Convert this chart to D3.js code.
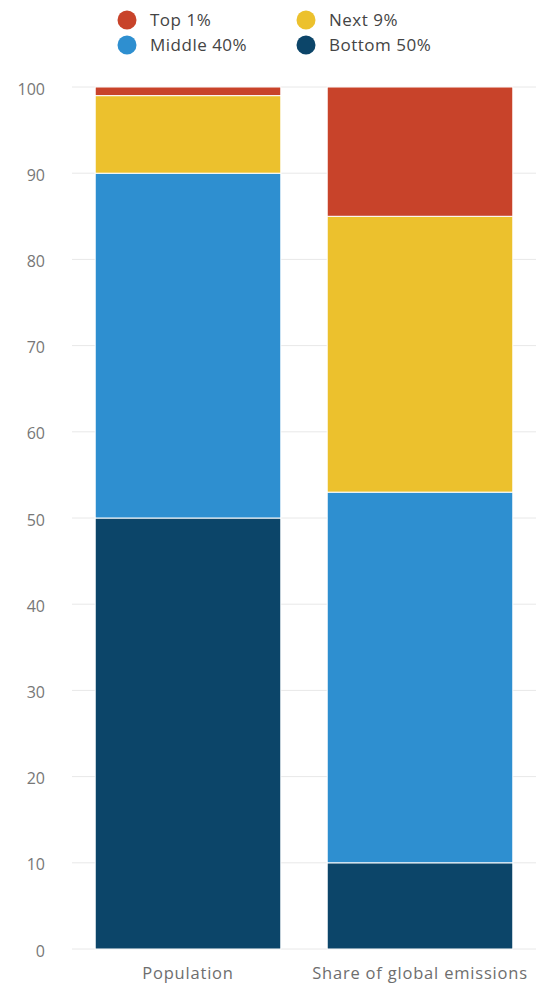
<!DOCTYPE html>
<html><head><meta charset="utf-8">
<script src="https://cdn.jsdelivr.net/npm/d3@7"></script>
<style>body{margin:0;background:#fff;}svg{display:block;font-family:"Open Sans",sans-serif;}</style>
</head><body><svg id="c" width="536" height="989"></svg>
<script>
const categories = ["Population", "Share of global emissions"];
const seriesNames = ["Bottom 50%", "Middle 40%", "Next 9%", "Top 1%"];
const bottom50 = [50, 10];
const middle40 = [40, 43];
const next9 = [9, 32];
const top1 = [1, 15];
const yTicks = [0, 10, 20, 30, 40, 50, 60, 70, 80, 90, 100];
const colors = ["#0c4569", "#2e8fd0", "#ecc12d", "#c8432a"];

const svg = d3.select("#c");
const x = d3.scaleBand().domain(categories).range([72, 536]).paddingInner(0.2).paddingOuter(0.1);
const y = d3.scaleLinear().domain([0, 100]).range([949, 87]);

// grid
svg.append("g").selectAll("line").data(yTicks).join("line")
  .attr("x1", 72).attr("x2", 536).attr("y1", d => y(d)).attr("y2", d => y(d))
  .attr("stroke", "#e8e8e8").attr("stroke-width", 1);

// y labels
const yAxis = d3.axisLeft(y).tickValues(yTicks).tickSize(0).tickPadding(0);
const ga = svg.append("g").attr("transform", "translate(45,2)").call(yAxis);
ga.select(".domain").remove();
ga.selectAll("text").attr("fill", "#777777").style("font-size", "16px").style("font-family", "'Open Sans',sans-serif");

// stacked data
const rows = categories.map((c, i) => ({cat: c, "Bottom 50%": bottom50[i], "Middle 40%": middle40[i], "Next 9%": next9[i], "Top 1%": top1[i]}));
const stacked = d3.stack().keys(seriesNames)(rows);
svg.append("g").selectAll("g").data(stacked).join("g")
  .attr("fill", (d, i) => colors[i])
  .selectAll("rect").data(d => d).join("rect")
  .attr("x", d => x(d.data.cat)).attr("width", x.bandwidth())
  .attr("y", d => y(d[1])).attr("height", d => y(d[0]) - y(d[1]))
  .attr("stroke", "#ffffff").attr("stroke-width", 1);

// x labels
const xAxis = d3.axisBottom(x).tickSize(0).tickPadding(0);
const gx = svg.append("g").attr("transform", "translate(0,967)").call(xAxis);
gx.select(".domain").remove();
gx.selectAll("text").attr("fill", "#6e6e6e").style("font-size", "16.5px")
  .style("letter-spacing", "0.8px").style("font-family", "'Open Sans',sans-serif");

// legend
const legendItems = [
  {name: "Top 1%", color: colors[3], x: 127, y: 20},
  {name: "Next 9%", color: colors[2], x: 306, y: 20},
  {name: "Middle 40%", color: colors[1], x: 127, y: 45},
  {name: "Bottom 50%", color: colors[0], x: 306, y: 45}
];
const lg = svg.append("g").selectAll("g").data(legendItems).join("g")
  .attr("transform", d => `translate(${d.x},${d.y})`);
lg.append("circle").attr("r", 9.5).attr("fill", d => d.color);
lg.append("text").attr("x", 23).attr("dy", "0.35em").text(d => d.name)
  .attr("fill", "#444444").style("font-size", "17px").style("letter-spacing", "0.5px");
</script></body></html>
